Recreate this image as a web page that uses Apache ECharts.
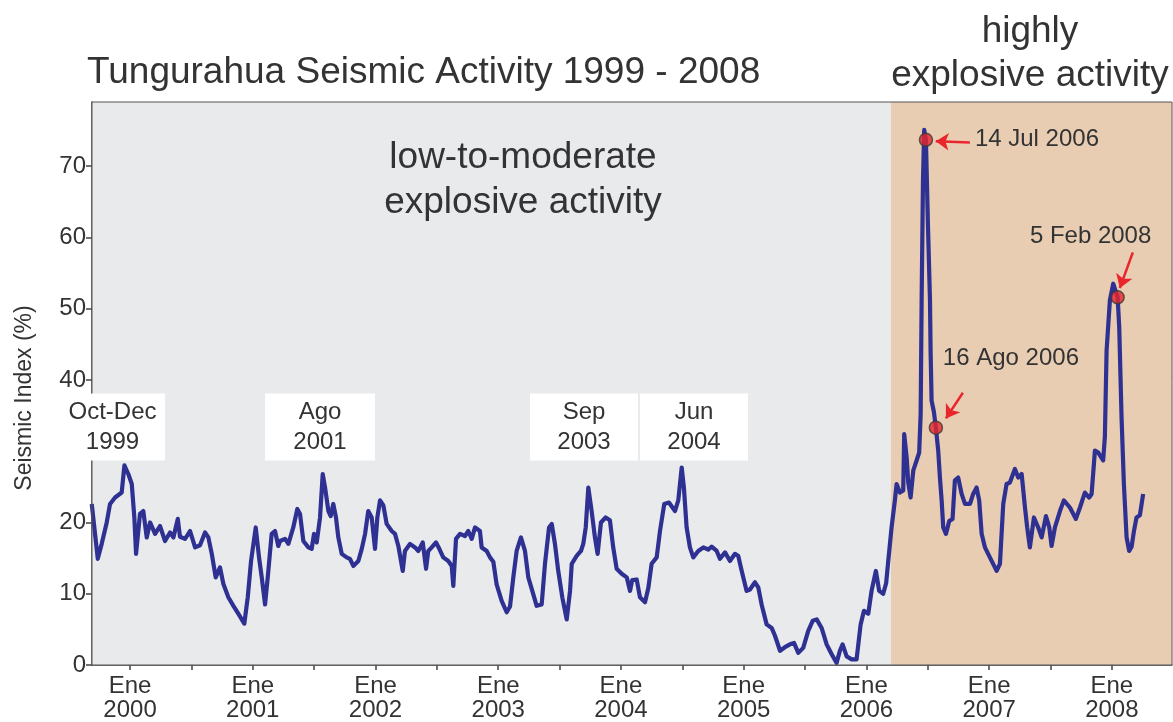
<!DOCTYPE html>
<html>
<head>
<meta charset="utf-8">
<script src="https://cdn.jsdelivr.net/npm/echarts@6/dist/echarts.min.js"></script>
<style>
  html, body { margin: 0; padding: 0; background: #fff; }
  #chart { width: 1173px; height: 722px; }
</style>
</head>
<body>
<div id="chart"></div>
<script>
// time in decimal years, seismic index in %
const years = [
  1999.688, 1999.737, 1999.769, 1999.810, 1999.837, 1999.878, 1999.932, 1999.954, 1999.986,
  2000.014, 2000.035, 2000.049, 2000.081, 2000.108, 2000.136, 2000.163, 2000.204, 2000.244, 2000.285,
  2000.326, 2000.353, 2000.389, 2000.407, 2000.448, 2000.489, 2000.530, 2000.570, 2000.611, 2000.638,
  2000.666, 2000.698, 2000.733, 2000.760, 2000.801, 2000.842, 2000.882, 2000.931, 2000.959, 2000.986,
  2001.024, 2001.051, 2001.073, 2001.100, 2001.122, 2001.154, 2001.181, 2001.208, 2001.222, 2001.263,
  2001.290, 2001.330, 2001.363, 2001.385, 2001.412, 2001.453, 2001.480, 2001.499, 2001.521, 2001.548,
  2001.570, 2001.589, 2001.616, 2001.635, 2001.656, 2001.678, 2001.697, 2001.725, 2001.765, 2001.792,
  2001.819, 2001.860, 2001.888, 2001.915, 2001.941, 2001.969, 2001.996, 2002.015, 2002.037, 2002.064,
  2002.091, 2002.132, 2002.159, 2002.186, 2002.222, 2002.240, 2002.281, 2002.322, 2002.349, 2002.385,
  2002.412, 2002.430, 2002.458, 2002.493, 2002.520, 2002.552, 2002.593, 2002.621, 2002.634, 2002.656,
  2002.689, 2002.729, 2002.756, 2002.784, 2002.811, 2002.851, 2002.865, 2002.906, 2002.933, 2002.960,
  2002.987, 2003.028, 2003.069, 2003.096, 2003.123, 2003.150, 2003.185, 2003.218, 2003.245, 2003.286,
  2003.313, 2003.354, 2003.381, 2003.414, 2003.436, 2003.462, 2003.489, 2003.522, 2003.558, 2003.585,
  2003.599, 2003.639, 2003.674, 2003.693, 2003.713, 2003.734, 2003.761, 2003.788, 2003.810, 2003.837,
  2003.875, 2003.910, 2003.937, 2003.965, 2004.006, 2004.047, 2004.074, 2004.092, 2004.128, 2004.155,
  2004.196, 2004.223, 2004.250, 2004.291, 2004.318, 2004.353, 2004.391, 2004.440, 2004.467, 2004.495,
  2004.513, 2004.535, 2004.562, 2004.589, 2004.630, 2004.671, 2004.711, 2004.739, 2004.780, 2004.807,
  2004.848, 2004.888, 2004.929, 2004.956, 2004.984, 2005.024, 2005.051, 2005.092, 2005.119, 2005.146,
  2005.187, 2005.228, 2005.255, 2005.296, 2005.336, 2005.377, 2005.410, 2005.445, 2005.485, 2005.526,
  2005.562, 2005.595, 2005.635, 2005.676, 2005.717, 2005.757, 2005.784, 2005.806, 2005.839, 2005.880,
  2005.920, 2005.953, 2005.980, 2006.015, 2006.042, 2006.077, 2006.104, 2006.137, 2006.161, 2006.178,
  2006.205, 2006.232, 2006.246, 2006.273, 2006.300, 2006.308, 2006.328, 2006.341, 2006.360, 2006.382,
  2006.409, 2006.430, 2006.442, 2006.450, 2006.461, 2006.471, 2006.485, 2006.501, 2006.518, 2006.523,
  2006.531, 2006.550, 2006.566, 2006.585, 2006.599, 2006.613, 2006.626, 2006.648, 2006.675, 2006.702,
  2006.721, 2006.748, 2006.776, 2006.803, 2006.844, 2006.870, 2006.898, 2006.919, 2006.939, 2006.966,
  2007.006, 2007.061, 2007.088, 2007.115, 2007.142, 2007.169, 2007.210, 2007.237, 2007.265, 2007.292,
  2007.310, 2007.332, 2007.365, 2007.400, 2007.428, 2007.463, 2007.490, 2007.509, 2007.536, 2007.577,
  2007.609, 2007.658, 2007.707, 2007.740, 2007.780, 2007.815, 2007.835, 2007.862, 2007.889, 2007.929,
  2007.943, 2007.957, 2007.984, 2008.011, 2008.030, 2008.047, 2008.060, 2008.079, 2008.098, 2008.120,
  2008.141, 2008.161, 2008.180, 2008.201, 2008.228, 2008.255
];
const seismicIndex = [
  22.6, 14.9, 17.0, 20.0, 22.6, 23.5, 24.2, 28.0, 26.8,
  25.4, 20.7, 15.6, 21.2, 21.6, 17.9, 20.0, 18.4, 19.5, 17.4,
  18.6, 17.9, 20.5, 18.0, 17.7, 18.8, 16.5, 16.8, 18.6, 17.9,
  15.6, 12.3, 13.7, 11.4, 9.5, 8.3, 7.2, 5.8, 9.5, 14.6,
  19.3, 15.1, 12.3, 8.5, 12.3, 18.4, 18.8, 16.7, 17.4, 17.7,
  17.0, 19.3, 21.9, 21.2, 17.4, 16.5, 16.3, 18.4, 17.2, 20.7,
  26.8, 24.9, 21.6, 20.9, 22.6, 20.7, 17.9, 15.6, 15.1, 14.9,
  13.9, 14.6, 16.3, 18.4, 21.6, 20.7, 16.3, 20.7, 23.1, 22.4,
  19.8, 18.8, 18.4, 16.7, 13.2, 16.0, 17.0, 16.5, 16.0, 17.2,
  13.5, 16.0, 16.5, 17.2, 16.3, 15.1, 14.6, 13.9, 11.1, 17.7,
  18.4, 18.1, 18.8, 17.7, 19.3, 18.8, 16.5, 16.0, 15.1, 14.5,
  11.3, 9.0, 7.4, 8.2, 12.3, 16.0, 17.9, 16.0, 12.3, 9.9,
  8.3, 8.5, 14.2, 19.3, 19.8, 17.0, 13.2, 9.5, 6.4, 10.4,
  14.2, 15.3, 16.0, 17.0, 19.3, 24.9, 21.6, 17.9, 15.6, 20.0,
  20.7, 20.3, 16.5, 13.5, 12.8, 12.3, 10.4, 11.9, 12.0, 9.5,
  8.8, 10.8, 14.2, 15.1, 18.8, 22.6, 22.8, 21.6, 23.1, 27.7,
  24.9, 19.3, 16.5, 15.1, 16.0, 16.5, 16.2, 16.6, 16.0, 14.9,
  15.8, 14.6, 15.6, 15.3, 13.2, 10.4, 10.6, 11.6, 10.9, 8.5,
  5.7, 5.2, 4.1, 2.0, 2.5, 2.9, 3.1, 1.7, 2.4, 4.8,
  6.2, 6.4, 5.2, 2.9, 1.5, 0.3, 2.0, 2.9, 1.2, 0.8,
  0.8, 5.7, 7.6, 7.2, 10.4, 13.2, 10.4, 10.0, 11.5, 14.6,
  19.3, 23.1, 25.4, 24.2, 24.5, 32.4, 29.1, 25.6, 23.5, 27.3,
  28.7, 29.8, 35.2, 51.2, 68.0, 75.1, 73.7, 62.0, 51.2, 44.1,
  37.1, 35.5, 33.3, 30.1, 26.3, 23.1, 19.3, 18.4, 20.2, 20.5,
  25.9, 26.3, 24.0, 22.6, 22.6, 24.0, 24.9, 23.1, 18.4, 16.5,
  15.1, 13.2, 14.2, 22.6, 25.4, 25.6, 27.5, 26.3, 26.8, 22.1,
  19.3, 16.5, 20.7, 19.3, 17.9, 20.9, 19.3, 16.7, 19.3, 21.6,
  23.1, 22.1, 20.5, 22.1, 24.2, 23.5, 24.0, 30.1, 29.8, 28.7,
  32.0, 44.1, 51.2, 53.5, 52.5, 51.6, 47.4, 34.7, 25.4, 17.9,
  16.0, 16.6, 18.8, 20.7, 21.0, 24.0
];

// axis ticks and labels
const labelYears = [2000, 2001, 2002, 2003, 2004, 2005, 2006, 2007, 2008];
const tickYears = [2000, 2000.5, 2001, 2001.5, 2002, 2002.5, 2003, 2003.5, 2004, 2004.5,
  2005, 2005.5, 2006, 2006.5, 2007, 2007.5, 2008];
const yTicks = [0, 10, 20, 30, 40, 50, 60, 70];
const yLabels = [0, 10, 20, 40, 50, 60, 70];   // 30 sits under the Oct-Dec box
const axisStart = 1999.69;
const axisEnd = 2008.49;
const regionBreak = 2006.2;

// marked dates
const dotYears = [2006.485, 2006.566, 2008.047];
const dotValues = [73.7, 33.3, 51.6];
const noteLabels = ['14 Jul 2006', '16 Ago 2006', '5 Feb 2008'];
const noteYears = [2006.884, 2006.623, 2007.332];
const noteValues = [73.8, 43.0, 60.2];
const arrowFromYears = [2006.843, 2006.786, 2008.171];
const arrowFromValues = [73.3, 38.2, 57.9];
const arrowToYears = [2006.565, 2006.648, 2008.065];
const arrowToValues = [73.5, 34.6, 52.9];

// boxed period labels
const boxLabels = ['Oct-Dec\n1999', 'Ago\n2001', 'Sep\n2003', 'Jun\n2004'];
const boxYears = [1999.857, 2001.548, 2003.699, 2004.595];
const boxValue = 33.4;
const boxWidths = [105, 110, 108, 108];

const FONT = '"Liberation Sans", Arial, Helvetica, sans-serif';
const TEXT = '#333';
const LINE = '#2e3192';
const RED = '#e8262c';

const chart = echarts.init(document.getElementById('chart'));

const option = {
  animation: false,
  backgroundColor: '#fff',
  grid: {
    left: 92, right: 1, top: 102, bottom: 57,
    outerBoundsMode: 'none',
    containLabel: false,
    show: true, z: 10,
    backgroundColor: 'transparent',
    borderColor: '#555', borderWidth: 1
  },
  xAxis: {
    type: 'value',
    min: axisStart,
    max: axisEnd,
    splitLine: { show: false },
    axisLine: { onZero: false, lineStyle: { color: '#444', width: 1.5 } },
    axisTick: { customValues: tickYears, length: 5, lineStyle: { color: '#444', width: 1.5 } },
    axisLabel: {
      customValues: labelYears,
      formatter: v => 'Ene\n' + Math.round(v),
      fontFamily: FONT, fontSize: 24, lineHeight: 24, color: TEXT, margin: 9
    }
  },
  yAxis: {
    type: 'value',
    min: 0,
    max: 79,
    splitLine: { show: false },
    axisLine: { lineStyle: { color: '#444', width: 1.5 } },
    axisTick: { customValues: yTicks, length: 6, lineStyle: { color: '#444', width: 1.5 } },
    axisLabel: { customValues: yLabels, fontFamily: FONT, fontSize: 24, color: TEXT, margin: 6 }
  },
  series: [
    {
      type: 'line',
      data: years.map((t, i) => [t, seismicIndex[i]]),
      showSymbol: false,
      z: 3,
      lineStyle: { color: LINE, width: 4.2, join: 'round' },
      markArea: {
        silent: true,
        data: [
          [{ xAxis: axisStart, itemStyle: { color: '#e9eaec' } }, { xAxis: regionBreak }],
          [{ xAxis: regionBreak, itemStyle: { color: '#e9cdb3' } }, { xAxis: axisEnd }]
        ]
      }
    },
    {
      type: 'scatter',
      data: dotYears.map((t, i) => [t, dotValues[i]]),
      symbolSize: 13,
      z: 5,
      itemStyle: { color: RED, borderColor: '#3a3a3a', borderWidth: 1.5 },
      markLine: {
        silent: true,
        symbol: ['none', 'arrow'],
        symbolSize: 13,
        label: { show: false },
        lineStyle: { color: RED, width: 2.5, type: 'solid' },
        data: arrowFromYears.map((t, i) => [
          { coord: [t, arrowFromValues[i]] },
          { coord: [arrowToYears[i], arrowToValues[i]] }
        ])
      }
    }
  ]
};
chart.setOption(option);

// annotations that sit on data coordinates
const graphics = [];
boxLabels.forEach((txt, i) => {
  const p = chart.convertToPixel({ gridIndex: 0 }, [boxYears[i], boxValue]);
  const w = boxWidths[i], h = 67;
  graphics.push({
    type: 'rect', z: 20,
    shape: { x: p[0] - w / 2, y: p[1] - h / 2, width: w, height: h },
    style: { fill: '#fff' }
  });
  graphics.push({
    type: 'text', z: 21,
    style: {
      text: txt, x: p[0], y: p[1], align: 'center', verticalAlign: 'middle',
      fontFamily: FONT, fontSize: 24, lineHeight: 30, fill: TEXT
    }
  });
});
noteLabels.forEach((txt, i) => {
  const p = chart.convertToPixel({ gridIndex: 0 }, [noteYears[i], noteValues[i]]);
  graphics.push({
    type: 'text', z: 21,
    style: {
      text: txt, x: p[0], y: p[1], align: 'left', verticalAlign: 'middle',
      fontFamily: FONT, fontSize: 24, fill: TEXT
    }
  });
});

// titles and region labels
const bigText = (text, x, y, align) => ({
  type: 'text', z: 21,
  style: { text, x, y, align, verticalAlign: 'middle', fontFamily: FONT, fontSize: 37, fill: TEXT }
});
graphics.push(bigText('Tungurahua Seismic Activity 1999 - 2008', 87, 73, 'left'));
graphics.push(bigText('highly', 1030, 32, 'center'));
graphics.push(bigText('explosive activity', 1030, 76, 'center'));
graphics.push(bigText('low-to-moderate', 523, 158, 'center'));
graphics.push(bigText('explosive activity', 523, 203, 'center'));
graphics.push({
  type: 'text', z: 21, rotation: Math.PI / 2, x: 25, y: 398,
  style: {
    text: 'Seismic Index (%)', x: 0, y: 0, align: 'center', verticalAlign: 'middle',
    fontFamily: FONT, fontSize: 23, fill: TEXT
  }
});

chart.setOption({ graphic: graphics });
</script>
</body>
</html>
